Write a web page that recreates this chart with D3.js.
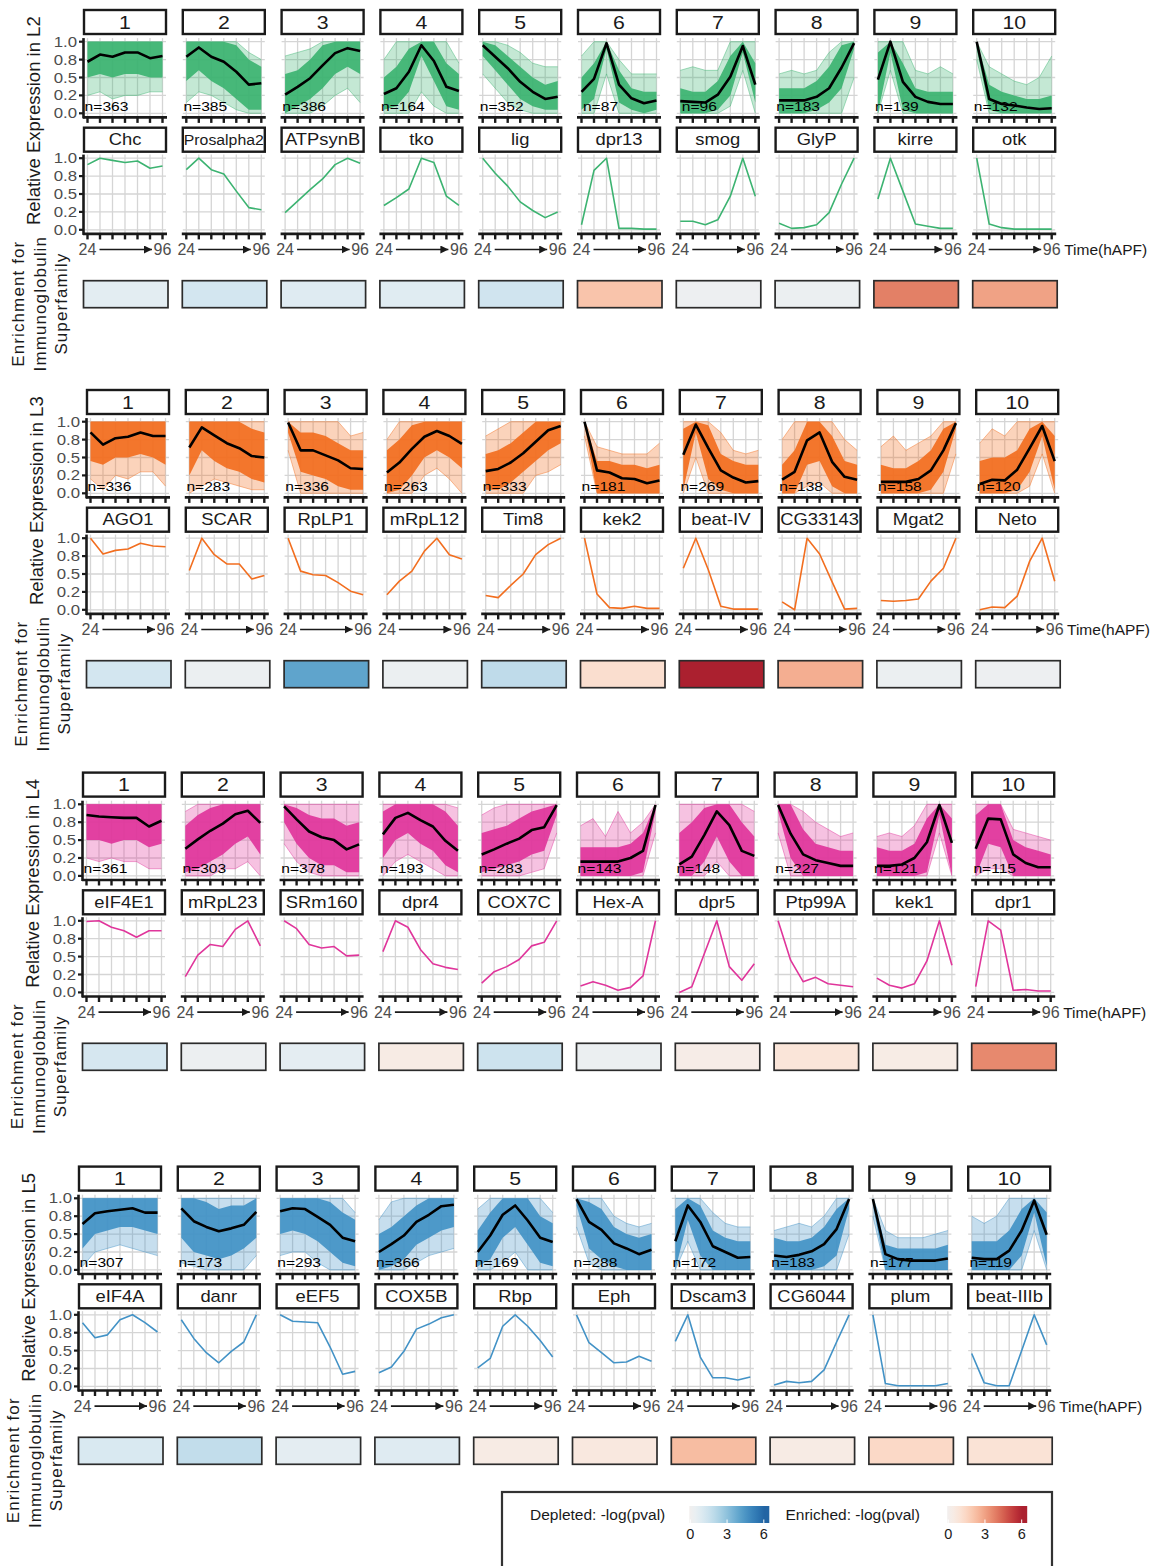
<!DOCTYPE html>
<html>
<head>
<meta charset="utf-8">
<script src="https://cdn.jsdelivr.net/npm/d3@7"></script>
<style>
  body { margin: 0; background: #fff; }
  svg { display: block; }
  text { font-family: "Liberation Sans", Arial, Helvetica, sans-serif; }
</style>
</head>
<body>
<svg id="chart" width="1152" height="1566"></svg>
<script>
// ---- shared axes ----
const timePoints = [24, 36, 48, 60, 72, 84, 96];
const yTicks = [0, 0.25, 0.5, 0.75, 1];
const yTickLabels = ["0.0", "0.2", "0.5", "0.8", "1.0"];
const clusterIds = [1, 2, 3, 4, 5, 6, 7, 8, 9, 10];
const layerNames = ["L2", "L3", "L4", "L5"];
const layerColors = ["#3CB371", "#F26E1F", "#E0359B", "#4292C6"];

// ---- L2 ----
const l2Counts = [363, 385, 386, 164, 352, 87, 96, 183, 139, 132];
const l2Genes = ["Chc", "Prosalpha2", "ATPsynB", "tko", "lig", "dpr13", "smog", "GlyP", "kirre", "otk"];
const l2Mean = [
  [0.72, 0.82, 0.79, 0.85, 0.85, 0.77, 0.80],
  [0.79, 0.92, 0.79, 0.72, 0.58, 0.40, 0.42],
  [0.26, 0.37, 0.49, 0.67, 0.84, 0.91, 0.87],
  [0.27, 0.35, 0.58, 0.95, 0.73, 0.37, 0.31],
  [0.95, 0.79, 0.63, 0.44, 0.30, 0.20, 0.23],
  [0.30, 0.48, 0.98, 0.40, 0.21, 0.14, 0.18],
  [0.17, 0.16, 0.15, 0.26, 0.51, 0.94, 0.40],
  [0.18, 0.18, 0.18, 0.23, 0.35, 0.64, 0.98],
  [0.47, 1.00, 0.44, 0.23, 0.16, 0.13, 0.13],
  [1.00, 0.20, 0.13, 0.11, 0.08, 0.06, 0.07]
];
const l2Hi = [
  [1, 1, 1, 1, 1, 1, 1],
  [1, 1, 1, 1, 1, 0.85, 0.75],
  [0.8, 0.85, 0.9, 1, 1, 1, 1],
  [0.75, 1, 1, 1, 1, 1, 0.7],
  [1, 1, 0.95, 0.85, 0.7, 0.65, 0.65],
  [0.8, 1, 1, 0.75, 0.55, 0.55, 0.55],
  [0.6, 0.65, 0.6, 0.6, 1, 1, 1],
  [0.55, 0.6, 0.55, 0.6, 0.85, 1, 1],
  [1, 1, 1, 0.6, 0.55, 0.65, 0.55],
  [1, 0.65, 0.55, 0.45, 0.4, 0.5, 0.8]
];
const l2CoreHi = [
  [1, 1, 1, 1, 1, 1, 1],
  [1, 1, 1, 1, 0.95, 0.75, 0.65],
  [0.55, 0.6, 0.75, 0.95, 1, 1, 1],
  [0.5, 0.65, 0.9, 1, 1, 0.7, 0.55],
  [1, 0.95, 0.8, 0.65, 0.5, 0.4, 0.45],
  [0.5, 0.7, 1, 0.6, 0.35, 0.3, 0.3],
  [0.35, 0.3, 0.3, 0.45, 0.8, 1, 0.7],
  [0.35, 0.35, 0.35, 0.45, 0.65, 0.95, 1],
  [0.85, 1, 0.7, 0.35, 0.3, 0.3, 0.3],
  [1, 0.4, 0.3, 0.25, 0.2, 0.2, 0.25]
];
const l2CoreLo = [
  [0.5, 0.55, 0.5, 0.55, 0.55, 0.5, 0.5],
  [0.45, 0.6, 0.45, 0.35, 0.2, 0.05, 0.05],
  [0, 0.1, 0.2, 0.35, 0.55, 0.65, 0.55],
  [0.05, 0.1, 0.3, 0.8, 0.45, 0.1, 0.05],
  [0.8, 0.6, 0.4, 0.2, 0.1, 0.05, 0.05],
  [0.05, 0.2, 0.9, 0.15, 0.05, 0, 0.05],
  [0, 0, 0, 0.05, 0.25, 0.85, 0.15],
  [0, 0, 0, 0.05, 0.15, 0.35, 0.9],
  [0, 0.85, 0.05, 0, 0, 0, 0],
  [0.9, 0.05, 0, 0, 0, 0, 0]
];
const l2Lo = [
  [0.25, 0.3, 0.2, 0.25, 0.25, 0.3, 0.3],
  [0.15, 0.3, 0.25, 0.15, 0.05, 0, 0],
  [0, 0, 0, 0.1, 0.25, 0.35, 0.15],
  [0, 0, 0, 0.3, 0.1, 0, 0],
  [0.55, 0.35, 0.15, 0.05, 0, 0, 0],
  [0, 0, 0.55, 0, 0, 0, 0],
  [0, 0, 0, 0, 0.1, 0.6, 0],
  [0, 0, 0, 0, 0, 0, 0.5],
  [0, 0.6, 0, 0, 0, 0, 0],
  [0.75, 0, 0, 0, 0, 0, 0]
];
const l2GeneExpr = [
  [0.91, 1.00, 0.97, 0.94, 0.96, 0.86, 0.89],
  [0.84, 1.00, 0.84, 0.78, 0.54, 0.31, 0.28],
  [0.24, 0.40, 0.56, 0.71, 0.91, 1.00, 0.93],
  [0.34, 0.45, 0.57, 1.00, 0.94, 0.47, 0.34],
  [1.00, 0.79, 0.61, 0.39, 0.27, 0.17, 0.25],
  [0.07, 0.83, 1.00, 0.02, 0.02, 0.01, 0.01],
  [0.12, 0.12, 0.07, 0.14, 0.47, 1.00, 0.47],
  [0.09, 0.02, 0.03, 0.07, 0.24, 0.64, 1.00],
  [0.43, 1.00, 0.54, 0.08, 0.05, 0.02, 0.02],
  [1.00, 0.08, 0.03, 0.01, 0.01, 0.01, 0.01]
];
// IgSF -log(pval): positive = enriched, negative = depleted
const l2Igsf = [-0.75, -1.3, -0.9, -0.85, -1.4, 2.1, -0.3, -0.4, 3.8, 3.0];

// ---- L3 ----
const l3Counts = [336, 283, 336, 263, 333, 181, 269, 138, 158, 120];
const l3Genes = ["AGO1", "SCAR", "RpLP1", "mRpL12", "Tim8", "kek2", "beat-IV", "CG33143", "Mgat2", "Neto"];
const l3Mean = [
  [0.85, 0.68, 0.77, 0.79, 0.85, 0.80, 0.80],
  [0.64, 0.92, 0.81, 0.70, 0.63, 0.52, 0.50],
  [0.99, 0.60, 0.60, 0.53, 0.46, 0.35, 0.34],
  [0.29, 0.43, 0.62, 0.79, 0.87, 0.80, 0.69],
  [0.31, 0.34, 0.43, 0.56, 0.72, 0.88, 0.94],
  [1.00, 0.32, 0.29, 0.21, 0.20, 0.14, 0.18],
  [0.54, 0.96, 0.63, 0.32, 0.22, 0.15, 0.17],
  [0.19, 0.30, 0.74, 0.85, 0.44, 0.23, 0.19],
  [0.16, 0.16, 0.16, 0.20, 0.32, 0.60, 0.98],
  [0.13, 0.19, 0.18, 0.33, 0.63, 0.94, 0.45]
];
const l3Hi = [
  [1, 1, 1, 1, 1, 1, 1],
  [1, 1, 1, 1, 1, 1, 1],
  [1, 1, 1, 1, 1, 0.8, 0.85],
  [0.75, 1, 1, 1, 1, 1, 1],
  [0.8, 0.9, 1, 1, 1, 1, 1],
  [1, 0.65, 0.6, 0.55, 0.55, 0.55, 0.7],
  [1, 1, 1, 0.85, 0.6, 0.55, 0.6],
  [0.75, 1, 1, 1, 1, 0.75, 0.6],
  [0.65, 0.8, 0.6, 0.7, 0.8, 1, 1],
  [0.7, 0.9, 0.8, 1, 1, 1, 1]
];
const l3CoreHi = [
  [1, 1, 1, 1, 1, 1, 1],
  [1, 1, 1, 1, 1, 0.9, 0.85],
  [1, 0.85, 0.85, 0.8, 0.7, 0.6, 0.6],
  [0.6, 0.75, 0.95, 1, 1, 1, 1],
  [0.55, 0.6, 0.7, 0.85, 1, 1, 1],
  [1, 0.45, 0.45, 0.4, 0.4, 0.35, 0.4],
  [0.9, 1, 0.95, 0.55, 0.45, 0.4, 0.4],
  [0.4, 0.6, 1, 1, 0.8, 0.45, 0.4],
  [0.4, 0.35, 0.35, 0.45, 0.6, 0.9, 1],
  [0.45, 0.5, 0.5, 0.6, 0.9, 1, 0.8]
];
const l3CoreLo = [
  [0.45, 0.4, 0.5, 0.5, 0.55, 0.5, 0.4],
  [0.25, 0.6, 0.45, 0.35, 0.3, 0.2, 0.15],
  [0.85, 0.3, 0.25, 0.2, 0.1, 0.05, 0.05],
  [0, 0.05, 0.25, 0.5, 0.6, 0.5, 0.35],
  [0.05, 0.05, 0.15, 0.3, 0.45, 0.6, 0.7],
  [0.95, 0, 0, 0, 0, 0, 0],
  [0.05, 0.85, 0.2, 0.05, 0, 0, 0],
  [0, 0, 0.4, 0.45, 0.1, 0, 0],
  [0, 0, 0, 0, 0.05, 0.3, 0.9],
  [0, 0, 0, 0.05, 0.3, 0.8, 0.05]
];
const l3Lo = [
  [0.2, 0.05, 0.25, 0.2, 0.3, 0.3, 0.1],
  [0, 0.1, 0.2, 0.15, 0.1, 0.05, 0.05],
  [0.6, 0, 0, 0, 0, 0, 0],
  [0, 0, 0, 0.25, 0.35, 0.2, 0],
  [0, 0, 0, 0, 0.25, 0.3, 0.4],
  [0.8, 0, 0, 0, 0, 0, 0],
  [0, 0.5, 0, 0, 0, 0, 0],
  [0, 0, 0.1, 0.15, 0, 0, 0],
  [0, 0, 0, 0, 0, 0, 0.55],
  [0, 0, 0, 0, 0.1, 0.55, 0]
];
const l3GeneExpr = [
  [1.00, 0.78, 0.83, 0.85, 0.93, 0.89, 0.88],
  [0.55, 1.00, 0.77, 0.64, 0.64, 0.43, 0.48],
  [1.00, 0.54, 0.49, 0.48, 0.38, 0.26, 0.21],
  [0.21, 0.40, 0.54, 0.82, 1.00, 0.77, 0.71],
  [0.20, 0.17, 0.34, 0.50, 0.77, 0.91, 1.00],
  [1.00, 0.22, 0.03, 0.02, 0.05, 0.02, 0.02],
  [0.58, 1.00, 0.56, 0.05, 0.01, 0.01, 0.01],
  [0.11, 0.00, 1.00, 0.78, 0.39, 0.01, 0.02],
  [0.13, 0.12, 0.13, 0.15, 0.40, 0.58, 1.00],
  [0.00, 0.04, 0.03, 0.19, 0.68, 1.00, 0.40]
];
const l3Igsf = [-1.3, -0.4, -4.0, -0.4, -1.9, 1.2, 6.0, 2.7, -0.4, -0.3];

// ---- L4 ----
const l4Counts = [361, 303, 378, 193, 283, 143, 148, 227, 121, 115];
const l4Genes = ["eIF4E1", "mRpL23", "SRm160", "dpr4", "COX7C", "Hex-A", "dpr5", "Ptp99A", "kek1", "dpr1"];
const l4Mean = [
  [0.85, 0.83, 0.82, 0.81, 0.81, 0.69, 0.77],
  [0.38, 0.51, 0.63, 0.73, 0.86, 0.91, 0.74],
  [0.97, 0.79, 0.62, 0.54, 0.50, 0.37, 0.44],
  [0.58, 0.81, 0.88, 0.78, 0.69, 0.49, 0.35],
  [0.30, 0.37, 0.45, 0.52, 0.64, 0.68, 0.99],
  [0.20, 0.20, 0.20, 0.20, 0.25, 0.35, 0.99],
  [0.16, 0.27, 0.57, 0.90, 0.71, 0.35, 0.28],
  [0.99, 0.59, 0.30, 0.22, 0.18, 0.14, 0.14],
  [0.14, 0.14, 0.16, 0.25, 0.47, 0.99, 0.46],
  [0.38, 0.80, 0.79, 0.30, 0.18, 0.12, 0.12]
];
const l4Hi = [
  [1, 1, 1, 1, 1, 1, 1],
  [0.9, 1, 1, 1, 1, 1, 1],
  [1, 1, 1, 1, 1, 1, 1],
  [1, 1, 1, 1, 1, 1, 0.95],
  [0.85, 0.95, 1, 1, 1, 1, 1],
  [0.7, 0.8, 0.55, 0.9, 0.6, 0.75, 1],
  [1, 1, 1, 1, 1, 1, 0.9],
  [1, 1, 0.9, 0.75, 0.65, 0.55, 0.6],
  [0.55, 0.6, 0.55, 0.7, 1, 1, 1],
  [1, 1, 1, 0.65, 0.6, 0.55, 0.5]
];
const l4CoreHi = [
  [1, 1, 1, 1, 1, 1, 1],
  [0.7, 0.85, 0.95, 1, 1, 1, 1],
  [1, 0.95, 0.85, 0.8, 0.8, 0.7, 0.75],
  [0.9, 1, 1, 1, 1, 0.9, 0.7],
  [0.6, 0.65, 0.7, 0.8, 0.9, 0.95, 1],
  [0.4, 0.4, 0.4, 0.4, 0.45, 0.6, 1],
  [0.6, 0.75, 0.95, 1, 1, 0.75, 0.55],
  [1, 1, 0.65, 0.45, 0.4, 0.35, 0.35],
  [0.4, 0.35, 0.35, 0.45, 0.8, 1, 0.8],
  [0.85, 1, 1, 0.5, 0.4, 0.35, 0.3]
];
const l4CoreLo = [
  [0.5, 0.5, 0.45, 0.5, 0.5, 0.4, 0.45],
  [0.05, 0.1, 0.2, 0.3, 0.45, 0.55, 0.3],
  [0.75, 0.45, 0.25, 0.15, 0.15, 0.05, 0.05],
  [0.25, 0.5, 0.6, 0.45, 0.35, 0.15, 0.05],
  [0.05, 0.1, 0.15, 0.2, 0.3, 0.35, 0.85],
  [0, 0, 0, 0, 0, 0.05, 0.9],
  [0, 0, 0.2, 0.55, 0.2, 0, 0],
  [0.9, 0.25, 0, 0, 0, 0, 0],
  [0, 0, 0, 0, 0.05, 0.85, 0],
  [0, 0.45, 0.4, 0, 0, 0, 0]
];
const l4Lo = [
  [0.25, 0.2, 0.25, 0.2, 0.2, 0.1, 0.1],
  [0, 0, 0, 0.1, 0.1, 0.2, 0],
  [0.45, 0.2, 0.05, 0, 0, 0, 0],
  [0, 0.2, 0.3, 0.2, 0.1, 0, 0],
  [0, 0, 0, 0, 0.05, 0.1, 0.6],
  [0, 0, 0, 0, 0, 0, 0.6],
  [0, 0, 0, 0.2, 0, 0, 0],
  [0.6, 0, 0, 0, 0, 0, 0],
  [0, 0, 0, 0, 0, 0.6, 0],
  [0, 0.1, 0.1, 0, 0, 0, 0]
];
const l4GeneExpr = [
  [0.99, 1.00, 0.91, 0.86, 0.77, 0.86, 0.86],
  [0.22, 0.52, 0.67, 0.64, 0.88, 1.00, 0.65],
  [1.00, 0.89, 0.67, 0.62, 0.64, 0.51, 0.52],
  [0.57, 1.00, 0.91, 0.60, 0.40, 0.35, 0.32],
  [0.13, 0.29, 0.36, 0.46, 0.65, 0.70, 1.00],
  [0.09, 0.15, 0.10, 0.03, 0.07, 0.23, 1.00],
  [0.00, 0.08, 0.54, 1.00, 0.36, 0.17, 0.40],
  [1.00, 0.45, 0.15, 0.21, 0.12, 0.10, 0.08],
  [0.20, 0.10, 0.06, 0.12, 0.44, 1.00, 0.38],
  [0.08, 1.00, 0.87, 0.03, 0.04, 0.02, 0.02]
];
const l4Igsf = [-1.2, -0.35, -0.7, 0.5, -1.5, -0.4, 0.4, 0.9, 0.45, 3.6];

// ---- L5 ----
const l5Counts = [307, 173, 293, 366, 169, 288, 172, 183, 177, 119];
const l5Genes = ["eIF4A", "danr", "eEF5", "COX5B", "Rbp", "Eph", "Dscam3", "CG6044", "plum", "beat-IIIb"];
const l5Mean = [
  [0.64, 0.79, 0.82, 0.84, 0.86, 0.80, 0.80],
  [0.86, 0.68, 0.60, 0.54, 0.58, 0.63, 0.81],
  [0.82, 0.86, 0.85, 0.74, 0.63, 0.45, 0.40],
  [0.25, 0.36, 0.48, 0.67, 0.77, 0.89, 0.91],
  [0.25, 0.48, 0.77, 0.90, 0.69, 0.45, 0.39],
  [0.99, 0.67, 0.56, 0.37, 0.30, 0.22, 0.28],
  [0.40, 0.90, 0.67, 0.33, 0.25, 0.17, 0.18],
  [0.20, 0.18, 0.21, 0.26, 0.36, 0.57, 0.99],
  [0.99, 0.22, 0.15, 0.13, 0.13, 0.13, 0.16],
  [0.17, 0.15, 0.15, 0.27, 0.55, 0.97, 0.49]
];
const l5Hi = [
  [1, 1, 1, 1, 1, 1, 1],
  [1, 1, 1, 1, 1, 1, 1],
  [1, 1, 1, 1, 1, 1, 0.8],
  [0.7, 0.95, 1, 1, 1, 1, 1],
  [0.85, 1, 1, 1, 1, 1, 0.8],
  [1, 1, 1, 0.75, 0.65, 0.6, 0.65],
  [1, 1, 1, 0.8, 0.65, 0.6, 0.6],
  [0.55, 0.6, 0.65, 0.6, 0.75, 1, 1],
  [1, 0.55, 0.45, 0.45, 0.45, 0.5, 0.55],
  [0.75, 0.65, 0.75, 1, 1, 1, 1]
];
const l5CoreHi = [
  [1, 1, 1, 1, 1, 1, 1],
  [1, 1, 0.95, 0.85, 0.9, 0.9, 1],
  [1, 1, 1, 1, 0.95, 0.8, 0.7],
  [0.5, 0.6, 0.75, 0.9, 1, 1, 1],
  [0.55, 0.8, 1, 1, 1, 0.75, 0.65],
  [1, 0.95, 0.85, 0.6, 0.5, 0.45, 0.5],
  [0.85, 1, 0.9, 0.55, 0.45, 0.4, 0.4],
  [0.45, 0.4, 0.4, 0.45, 0.6, 0.85, 1],
  [1, 0.35, 0.3, 0.3, 0.3, 0.3, 0.35],
  [0.4, 0.4, 0.4, 0.55, 0.85, 1, 0.8]
];
const l5CoreLo = [
  [0.3, 0.5, 0.55, 0.6, 0.6, 0.55, 0.5],
  [0.45, 0.25, 0.2, 0.15, 0.2, 0.3, 0.45],
  [0.5, 0.55, 0.5, 0.4, 0.25, 0.1, 0.05],
  [0, 0.05, 0.15, 0.35, 0.45, 0.55, 0.6],
  [0.05, 0.15, 0.45, 0.6, 0.35, 0.1, 0.05],
  [0.9, 0.3, 0.15, 0.05, 0, 0, 0],
  [0, 0.7, 0.2, 0, 0, 0, 0],
  [0, 0, 0, 0, 0.05, 0.2, 0.85],
  [0.9, 0, 0, 0, 0, 0, 0],
  [0, 0, 0, 0, 0.2, 0.8, 0.05]
];
const l5Lo = [
  [0.05, 0.25, 0.3, 0.35, 0.3, 0.25, 0.2],
  [0.1, 0.05, 0, 0, 0, 0, 0.2],
  [0.2, 0.25, 0.25, 0.1, 0, 0, 0],
  [0, 0, 0, 0.1, 0.2, 0.25, 0.3],
  [0, 0, 0.1, 0.25, 0, 0, 0],
  [0.6, 0.1, 0, 0, 0, 0, 0],
  [0, 0.4, 0, 0, 0, 0, 0],
  [0, 0, 0, 0, 0, 0, 0.5],
  [0.75, 0, 0, 0, 0, 0, 0],
  [0, 0, 0, 0, 0, 0.55, 0]
];
const l5GeneExpr = [
  [0.89, 0.68, 0.72, 0.93, 1.00, 0.89, 0.76],
  [0.93, 0.67, 0.47, 0.33, 0.49, 0.62, 1.00],
  [1.00, 0.91, 0.90, 0.89, 0.55, 0.17, 0.21],
  [0.19, 0.27, 0.49, 0.80, 0.87, 0.96, 1.00],
  [0.26, 0.39, 0.84, 1.00, 0.84, 0.64, 0.41],
  [1.00, 0.61, 0.47, 0.33, 0.34, 0.42, 0.35],
  [0.63, 1.00, 0.41, 0.12, 0.12, 0.09, 0.13],
  [0.02, 0.07, 0.05, 0.07, 0.23, 0.62, 1.00],
  [1.00, 0.04, 0.01, 0.01, 0.01, 0.01, 0.04],
  [0.46, 0.05, 0.01, 0.01, 0.50, 1.00, 0.58]
];
const l5Igsf = [-1.1, -1.8, -0.7, -0.9, 0.5, 0.7, 2.3, 0.5, 1.4, 1.0];

// legend scale ticks
const legendTicks = [0, 3, 6];

// ---- assemble per-layer tables ----
const layers = [
  { counts: l2Counts, genes: l2Genes, mean: l2Mean, hi: l2Hi, coreHi: l2CoreHi, coreLo: l2CoreLo, lo: l2Lo, gene: l2GeneExpr, igsf: l2Igsf },
  { counts: l3Counts, genes: l3Genes, mean: l3Mean, hi: l3Hi, coreHi: l3CoreHi, coreLo: l3CoreLo, lo: l3Lo, gene: l3GeneExpr, igsf: l3Igsf },
  { counts: l4Counts, genes: l4Genes, mean: l4Mean, hi: l4Hi, coreHi: l4CoreHi, coreLo: l4CoreLo, lo: l4Lo, gene: l4GeneExpr, igsf: l4Igsf },
  { counts: l5Counts, genes: l5Genes, mean: l5Mean, hi: l5Hi, coreHi: l5CoreHi, coreLo: l5CoreLo, lo: l5Lo, gene: l5GeneExpr, igsf: l5Igsf }
].map((d, i) => Object.assign(d, { name: layerNames[i], color: layerColors[i] }));

// ---- layout ----
const blockTop = [41.7, 421.7, 804.3, 1198.3];   // y of value 1.0 in the cluster row
const blockLeft = [84, 87, 83, 79];
const PW = 82, PITCH = 98.8, PH = 71.6, EXP = 3.6;
const GENE_OFF = 116.5;

const x = d3.scaleLinear().domain([24, 96]).range([3.5, PW - 3.5]);
const y = d3.scaleLinear().domain([0, 1]).range([PH, 0]);
const colX = d3.scaleLinear().domain([1, 10]).range([0, 9 * PITCH]);

const enrichedColor = v => d3.interpolateRdBu(0.5 - 0.4 * Math.min(v, 6) / 6);
const depletedColor = v => d3.interpolateRdBu(0.5 + 0.4 * Math.min(v, 6) / 6);
const igsfColor = v => v >= 0 ? enrichedColor(v) : depletedColor(-v);

const GRID = "#d5d5d5", INK = "#1a1a1a", TICKTXT = "#4d4d4d";

const svg = d3.select("#chart");
const defs = svg.append("defs");
defs.append("marker").attr("id", "arrowHead")
  .attr("viewBox", "0 0 10 10").attr("refX", 10).attr("refY", 5)
  .attr("markerWidth", 8).attr("markerHeight", 8).attr("markerUnits", "userSpaceOnUse")
  .attr("orient", "auto")
  .append("path").attr("d", "M0,0 L10,5 L0,10 Z").attr("fill", INK);

function stretchedText(parent, tx, ty, str, sx) {
  return parent.append("text")
    .attr("transform", `translate(${tx},${ty}) scale(${sx},1)`)
    .text(str);
}

const lineGen = d3.line().x((d, i) => x(timePoints[i])).y(d => y(d));
const bandGen = (lo, hi) => d3.area()
  .x((d, i) => x(timePoints[i]))
  .y0((d, i) => y(lo[i]))
  .y1((d, i) => y(hi[i]))(timePoints);

function drawPanelFrame(g) {
  g.selectAll("line.gh").data(yTicks).join("line")
    .attr("x1", 0).attr("x2", PW)
    .attr("y1", d => y(d)).attr("y2", d => y(d))
    .attr("stroke", GRID).attr("stroke-width", 1.3);
  g.selectAll("line.gv").data(timePoints).join("line")
    .attr("x1", d => x(d)).attr("x2", d => x(d))
    .attr("y1", -EXP).attr("y2", PH + EXP)
    .attr("stroke", GRID).attr("stroke-width", 1.3);
}

function drawAxes(g, first) {
  const xa = g.append("g");
  xa.append("line").attr("x1", -1).attr("x2", PW + 1)
    .attr("y1", PH + EXP + 0.5).attr("y2", PH + EXP + 0.5)
    .attr("stroke", INK).attr("stroke-width", 2.6);
  xa.selectAll("line.t").data(timePoints).join("line")
    .attr("x1", d => x(d)).attr("x2", d => x(d))
    .attr("y1", PH + EXP).attr("y2", PH + EXP + 6)
    .attr("stroke", INK).attr("stroke-width", 2.4);
  if (first) {
    const ya = g.append("g");
    ya.append("line").attr("x1", -0.5).attr("x2", -0.5)
      .attr("y1", -EXP).attr("y2", PH + EXP + 1.5)
      .attr("stroke", INK).attr("stroke-width", 2.6);
    ya.selectAll("line.t").data(yTicks).join("line")
      .attr("x1", -5).attr("x2", 0)
      .attr("y1", d => y(d)).attr("y2", d => y(d))
      .attr("stroke", INK).attr("stroke-width", 2.2);
    yTicks.forEach((v, i) => {
      stretchedText(ya, -7, y(v) + 5, yTickLabels[i], 1.2)
        .attr("text-anchor", "end").attr("font-size", 14).attr("fill", TICKTXT);
    });
  }
}

function drawStrip(g, top, label, size) {
  g.append("rect").attr("x", 0).attr("y", top).attr("width", PW).attr("height", 24)
    .attr("fill", "#fff").attr("stroke", INK).attr("stroke-width", 2.4);
  const t = stretchedText(g, PW / 2, top + 12 + size * 0.36, label, 1.15)
    .attr("text-anchor", "middle").attr("font-size", size).attr("fill", INK);
  const w = t.node().getComputedTextLength() * 1.15;
  if (w > PW - 2) t.attr("font-size", size * (PW - 2) / w);
  return t;
}

layers.forEach((L, li) => {
  const T = blockTop[li], left = blockLeft[li];
  const block = svg.append("g").attr("transform", `translate(${left},${T})`);

  clusterIds.forEach((cid, ci) => {
    const cx = colX(cid);
    const first = ci === 0;

    // cluster row: spread of member profiles, dense core and cluster mean
    const top = block.append("g").attr("transform", `translate(${cx},0)`);
    drawStrip(top, -31.7, String(cid), 18.5);
    drawPanelFrame(top);
    top.append("path").attr("d", bandGen(L.lo[ci], L.hi[ci]))
      .attr("fill", L.color).attr("fill-opacity", 0.3);
    top.append("path").attr("d", lineGen(L.hi[ci])).attr("fill", "none")
      .attr("stroke", L.color).attr("stroke-opacity", 0.45).attr("stroke-width", 1);
    top.append("path").attr("d", lineGen(L.lo[ci])).attr("fill", "none")
      .attr("stroke", L.color).attr("stroke-opacity", 0.45).attr("stroke-width", 1);
    top.append("path").attr("d", bandGen(L.coreLo[ci], L.coreHi[ci]))
      .attr("fill", L.color).attr("fill-opacity", 0.92);
    top.append("path").attr("d", lineGen(L.mean[ci])).attr("fill", "none")
      .attr("stroke", "#000").attr("stroke-width", 2.6).attr("stroke-linejoin", "round");
    stretchedText(top, 22.5, PH - 2.5, "n=" + L.counts[ci], 1.2)
      .attr("text-anchor", "middle").attr("font-size", 13).attr("fill", "#000");
    drawAxes(top, first);

    // representative gene row
    const bot = block.append("g").attr("transform", `translate(${cx},${GENE_OFF})`);
    drawStrip(bot, -30.5, L.genes[ci], 16);
    drawPanelFrame(bot);
    bot.append("path").attr("d", lineGen(L.gene[ci])).attr("fill", "none")
      .attr("stroke", L.color).attr("stroke-width", 1.6).attr("stroke-linejoin", "round");
    drawAxes(bot, first);

    // time arrow labels
    const base = PH + 25.5;
    bot.append("text").attr("x", x(24)).attr("y", base).attr("text-anchor", "middle")
      .attr("font-size", 16).attr("fill", TICKTXT).text(timePoints[0]);
    bot.append("text").attr("x", x(96)).attr("y", base).attr("text-anchor", "middle")
      .attr("font-size", 16).attr("fill", TICKTXT).text(timePoints[timePoints.length - 1]);
    bot.append("line").attr("x1", x(24) + 12).attr("x2", x(96) - 10.5)
      .attr("y1", base - 5.8).attr("y2", base - 5.8)
      .attr("stroke", INK).attr("stroke-width", 1.6).attr("marker-end", "url(#arrowHead)");

    // IgSF enrichment tile
    block.append("rect")
      .attr("x", cx - 0.5).attr("y", 239).attr("width", PW + 2.5).attr("height", 27)
      .attr("fill", igsfColor(L.igsf[ci]))
      .attr("stroke", "#2b2b2b").attr("stroke-width", 1.7);
  });

  // axis title for time, kept inside the page edge
  const timeLabel = block.append("text")
    .attr("y", GENE_OFF + PH + 25.5)
    .attr("font-size", 15.5).attr("fill", INK).text("Time(hAPF)");
  const tw = timeLabel.node().getComputedTextLength();
  timeLabel.attr("x", Math.min(colX(10) + PW + 9, 1150 - tw - left));

  // row titles
  block.append("text")
    .attr("transform", `translate(${-49},${79}) rotate(-90)`)
    .attr("text-anchor", "middle").attr("dominant-baseline", "middle")
    .attr("font-size", 18.5).attr("fill", INK)
    .text("Relative Expression in " + L.name);

  const titleLines = ["Enrichment for", "Immunoglobulin", "Superfamily"];
  titleLines.forEach((s, k) => {
    block.append("text")
      .attr("transform", `translate(${-64 + k * 21.5},${262}) rotate(-90)`)
      .attr("text-anchor", "middle").attr("dominant-baseline", "middle")
      .attr("font-size", 17).attr("letter-spacing", 1.1).attr("fill", INK)
      .text(s);
  });
});

// ---- legend ----
const leg = svg.append("g");
leg.append("rect").attr("x", 502).attr("y", 1492).attr("width", 550).attr("height", 110)
  .attr("fill", "#fff").attr("stroke", "#333").attr("stroke-width", 2.2);

function colorBar(id, x0, titleX, title, colorFn) {
  const xs = d3.scaleLinear().domain([0, 6]).range([x0, x0 + 73.5]);
  const grad = defs.append("linearGradient").attr("id", id)
    .attr("x1", "0%").attr("x2", "100%").attr("y1", "0%").attr("y2", "0%");
  d3.range(0, 6.01, 0.5).forEach(v => {
    grad.append("stop").attr("offset", (v / 6.4) * 100 + "%").attr("stop-color", colorFn(v));
  });
  grad.append("stop").attr("offset", "100%").attr("stop-color", colorFn(6));
  leg.append("text").attr("x", titleX).attr("y", 1519.5)
    .attr("font-size", 15.5).attr("fill", INK).text(title);
  leg.append("rect").attr("x", x0 - 1).attr("y", 1506).attr("width", 80).attr("height", 17)
    .attr("fill", `url(#${id})`);
  leg.selectAll(null).data(legendTicks).join("line")
    .attr("x1", d => xs(d)).attr("x2", d => xs(d))
    .attr("y1", 1519.5).attr("y2", 1523)
    .attr("stroke", "#fff").attr("stroke-width", 1);
  leg.selectAll(null).data(legendTicks).join("text")
    .attr("x", d => xs(d)).attr("y", 1538.5).attr("text-anchor", "middle")
    .attr("font-size", 14.5).attr("fill", INK).text(d => d);
}
colorBar("depGrad", 690.3, 530, "Depleted: -log(pval)", depletedColor);
colorBar("enrGrad", 948.2, 785.5, "Enriched: -log(pval)", enrichedColor);
</script>
</body>
</html>
